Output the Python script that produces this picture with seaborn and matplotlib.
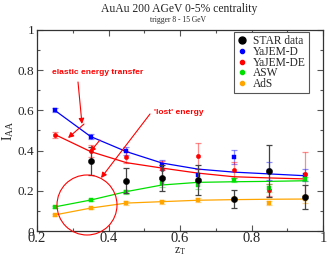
import numpy as np
import pandas as pd
import matplotlib
matplotlib.use("Agg")
import matplotlib.pyplot as plt
import seaborn as sns
from matplotlib.patches import Ellipse

# ---- data ----
zt = [0.25, 0.35, 0.45, 0.55, 0.65, 0.75, 0.85, 0.95]
star_x = [0.35, 0.45, 0.55, 0.65, 0.75, 0.85, 0.95]
star_y = [0.35, 0.25, 0.262, 0.254, 0.159, 0.30, 0.171]
star_err = [0.07, 0.062, 0.065, 0.075, 0.045, 0.13, 0.06]

yd_pts = [0.60, 0.47, 0.40, 0.328, 0.279, 0.368, 0.30, 0.28]
yd_err = [0.01, 0.012, 0.02, 0.025, 0.03, 0.035, 0.045, 0.03]
yd_line = [0.60, 0.47, 0.395, 0.338, 0.308, 0.293, 0.284, 0.275]

yde_pts = [0.48, 0.40, 0.37, 0.308, 0.373, 0.303, 0.204, 0.285]
yde_err = [0.015, 0.03, 0.03, 0.04, 0.065, 0.04, 0.03, 0.11]
yde_line = [0.48, 0.395, 0.34, 0.313, 0.288, 0.27, 0.264, 0.259]

asw_pts = [0.12, 0.154, 0.196, 0.239, 0.229, 0.252, 0.213, 0.259]
asw_err = [0.005, 0.006, 0.01, 0.02, 0.02, 0.01, 0.02, 0.01]
asw_line = [0.12, 0.154, 0.196, 0.229, 0.242, 0.245, 0.247, 0.25]

ads_pts = [0.08, 0.114, 0.139, 0.146, 0.155, 0.16, 0.141, 0.16]
ads_err = [0.005, 0.005, 0.008, 0.01, 0.01, 0.01, 0.01, 0.02]
ads_line = [0.08, 0.114, 0.139, 0.146, 0.153, 0.156, 0.158, 0.159]

labels = ["STAR data", "YaJEM-D", "YaJEM-DE", "ASW", "AdS"]
colors = ["black", "#0000ff", "#ff0000", "#00e000", "#ffa500"]

sns.set_theme(style="ticks")
plt.rcParams["font.family"] = ["Liberation Serif", "DejaVu Serif"]
plt.rcParams["mathtext.fontset"] = "stix"

fig = plt.figure(figsize=(3.27, 2.57), dpi=100)
ax = fig.add_axes([37/327, 26/257, 286/327, 201/257])

# model curves
for yline, c in zip([yd_line, yde_line, asw_line, ads_line], colors[1:]):
    sns.lineplot(x=zt, y=yline, color=c, lw=0.9, ax=ax, zorder=2)

# model points with error bars
for pts, err, c, m in zip([yd_pts, yde_pts, asw_pts, ads_pts],
                          [yd_err, yde_err, asw_err, ads_err],
                          colors[1:], ["s", "o", "s", "s"]):
    ax.errorbar(zt, pts, yerr=err, fmt="none", ecolor=c, alpha=0.45,
                elinewidth=0.9, capsize=2.2, capthick=0.9, zorder=3)
    sns.scatterplot(x=zt, y=pts, color=c, marker=m, s=10, edgecolor=c,
                    linewidth=0.3, ax=ax, zorder=4)

# STAR data
ax.errorbar(star_x, star_y, yerr=star_err, fmt="none", ecolor="#444444",
            elinewidth=0.9, capsize=2.2, capthick=0.9, zorder=5)
sns.scatterplot(x=star_x, y=star_y, color="black", s=20, edgecolor="black",
                linewidth=0.3, ax=ax, zorder=6)

ax.set_xlim(0.2, 1.0)
ax.set_ylim(0, 1.0)
ax.set_xticks([0.2, 0.4, 0.6, 0.8, 1.0])
ax.set_xticklabels(["0.2", "0.4", "0.6", "0.8", "1"], fontsize=10.5)
ax.set_xticks(np.arange(0.3, 1.0, 0.2), minor=True)
ax.set_yticks([0, 0.2, 0.4, 0.6, 0.8, 1.0])
ax.set_yticklabels(["0", "0.2", "0.4", "0.6", "0.8", "1"], fontsize=9.5)
ax.set_yticks(np.arange(0.1, 1.0, 0.2), minor=True)
ax.tick_params(which="both", direction="in", top=True, right=True,
               color="#555555", width=0.8, pad=2)
ax.tick_params(axis="x", which="major", pad=1)
ax.tick_params(which="major", length=4.5)
ax.tick_params(which="minor", length=2.5)
for s in ax.spines.values():
    s.set_linewidth(0.9)
    s.set_color("#333333")

ax.set_xlabel(r"z$_\mathregular{T}$", fontsize=8.5, labelpad=0)
ax.set_ylabel(r"I$_\mathregular{AA}$", fontsize=10, labelpad=1)

# legend
handles = [plt.Line2D([], [], ls="none", marker="o", color=c,
                      markersize=(5 if i == 0 else 3))
           for i, c in enumerate(colors)]
leg = ax.legend(handles, labels, loc="upper right",
                bbox_to_anchor=((309-37)/286, (231-32)/201),
                borderaxespad=0, fontsize=8.3, labelspacing=-0.12,
                handlelength=0.8, handletextpad=0.5, borderpad=0.3,
                frameon=True, fancybox=False, framealpha=1)
leg.get_frame().set_edgecolor("#555555")
leg.get_frame().set_linewidth(0.8)

# titles
fig.text(179/327, 1-9/257, "AuAu 200 AGeV 0-5% centrality", ha="center",
         va="center", fontsize=8.4)
fig.text(178/327, 1-20/257, "trigger 8 - 15 GeV", ha="center",
         va="center", fontsize=5.5)

# annotations
def d(px, py):
    return (0.2 + (px-37)/357.5, (231-py)/201)

red = "#ff0000"
afont = dict(family=["Liberation Sans", "DejaVu Sans"], weight="bold",
             fontsize=6, color=red)
ax.text(*d(98, 73), "elastic energy transfer", ha="center", va="center", **afont)
ax.text(*d(179, 112), "'lost' energy", ha="center", va="center", **afont)
aprops = dict(arrowstyle="-|>", color=red, lw=0.8, mutation_scale=8,
              shrinkA=0, shrinkB=0)
for (x0, y0, x1, y1) in [(78, 82, 82, 124), (84, 124, 68, 138),
                         (100, 140, 90, 152), (150, 114, 101, 178)]:
    ax.annotate("", xy=d(x1, y1), xytext=d(x0, y0), arrowprops=aprops,
                zorder=7)
cx, cy = d(87, 205)
ax.add_patch(Ellipse((cx, cy), 60/357.5, 60/201, fill=False, ec=red,
                     lw=0.8, clip_on=False, zorder=7))

fig.savefig("out.png", dpi=100)
